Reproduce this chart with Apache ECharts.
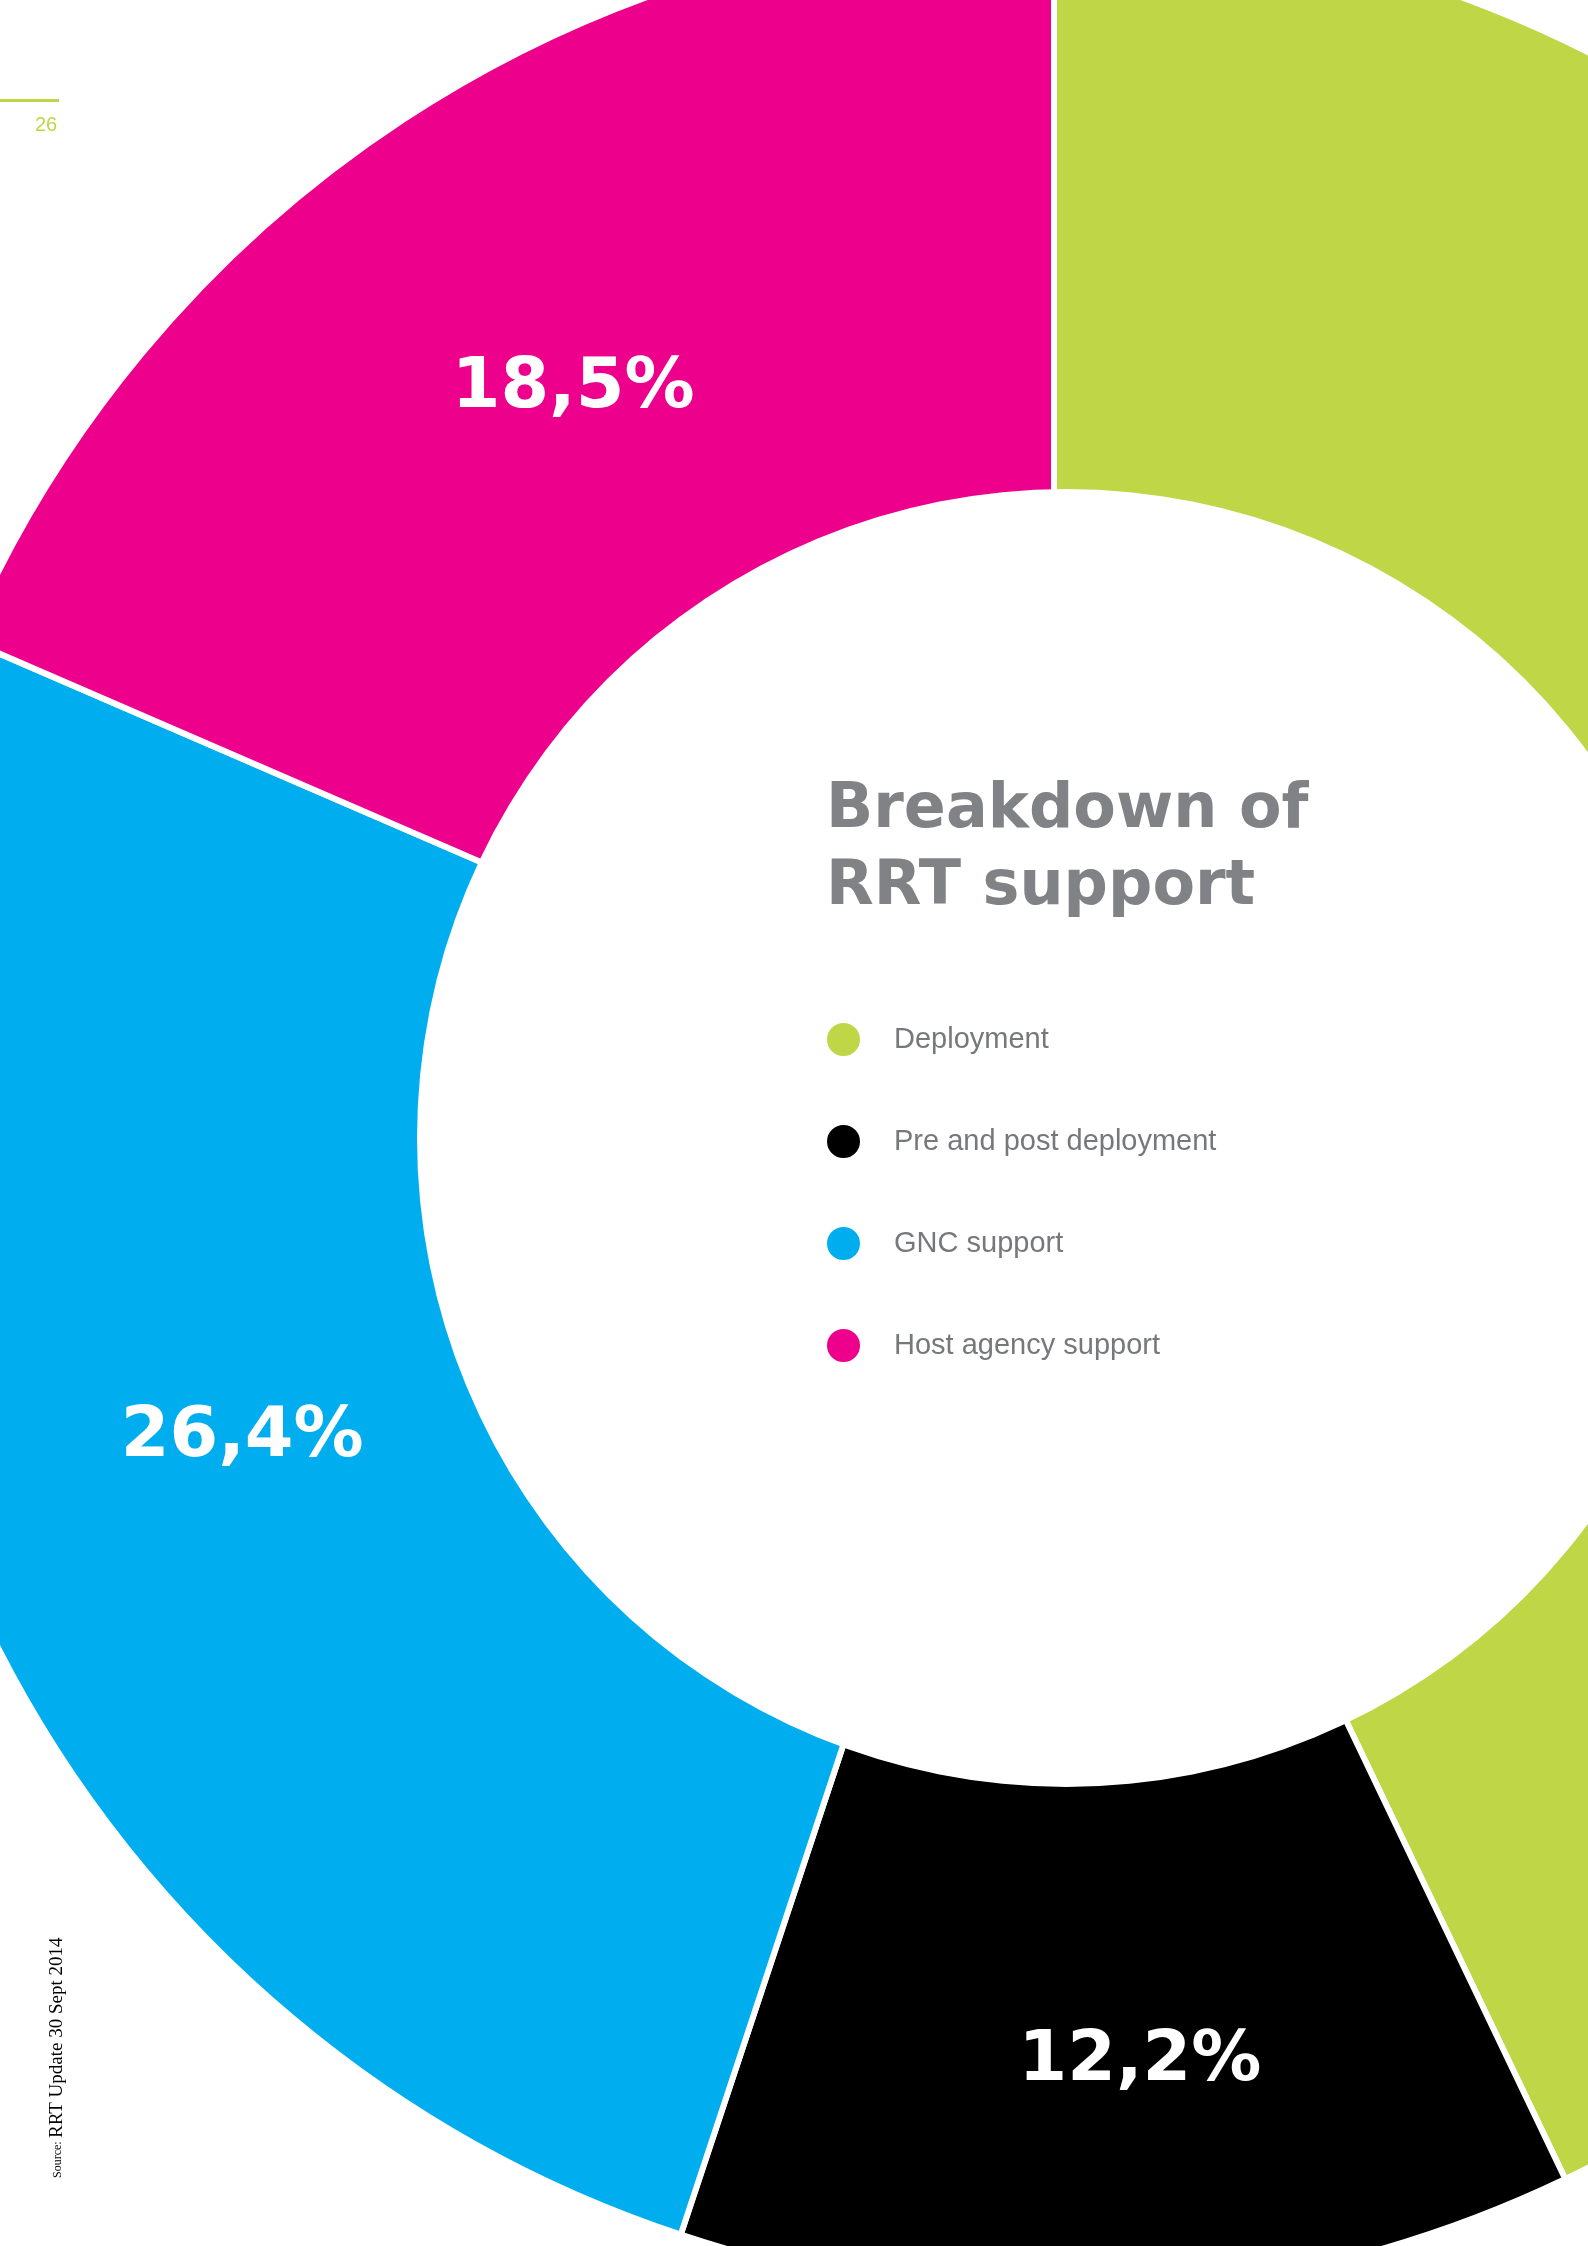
<!DOCTYPE html>
<html lang="en">
<head>
    <meta charset="UTF-8" />
    <title>Breakdown of RRT support</title>
    <script src="https://cdn.jsdelivr.net/npm/echarts@6.0.0/dist/echarts.min.js"></script>
    <style>
        html, body { margin: 0; padding: 0; background: #fff; }
        #main { width: 1588px; height: 2246px; }
    </style>
</head>
<body>
    <div id="main"></div>
    <script>
        // data
        var categories = ["Deployment", "Pre and post deployment", "GNC support", "Host agency support"];
        var shares = [42.9, 12.2, 26.4, 18.5];
        var colors = ["#bfd646", "#000000", "#00aeef", "#ec008c"];
        // the big labels were placed by hand in the original, nudge them
        var labelShift = [[0, 0], [30, 63], [1, -36], [8, 23]];

        var mCharts = echarts.init(document.getElementById("main"));

        var pieData = categories.map(function (name, i) {
            return { name: name, value: shares[i], itemStyle: { color: colors[i] } };
        });

        var option = {
            animation: false,
            legend: {
                orient: "vertical",
                left: 820,
                top: 1016,
                icon: "circle",
                itemWidth: 35,
                itemHeight: 35,
                itemGap: 65,
                selectedMode: false,
                data: categories,
                z: 20,
                textStyle: {
                    fontFamily: "Liberation Sans",
                    fontSize: 29,
                    color: "#77787b",
                    padding: [0, 0, 0, 28]
                }
            },
            graphic: {
                elements: [
                    // page number + rule
                    { type: "rect", left: 0, top: 99, z: 100, shape: { width: 59, height: 3 }, style: { fill: "#bfd646" } },
                    { type: "text", left: 35, top: 115, z: 100, style: { text: "26", font: "20px Liberation Sans", fill: "#bfd646" } },
                    // title
                    {
                        type: "text", left: 826, top: 772, z: 100,
                        style: {
                            text: "Breakdown of\nRRT support",
                            font: "bold 62px DejaVu Sans",
                            lineHeight: 77,
                            fill: "#808285"
                        }
                    },
                    // source, rotated
                    {
                        type: "text", x: 67, y: 2178, rotation: Math.PI / 2, z: 100,
                        style: {
                            text: "{s|Source:} {b|RRT Update 30 Sept 2014}",
                            rich: {
                                s: { fontFamily: "Liberation Serif", fontSize: 12, fill: "#000" },
                                b: { fontFamily: "Liberation Serif", fontSize: 19, fill: "#000" }
                            },
                            verticalAlign: "bottom"
                        }
                    }
                ]
            },
            series: [
                {
                    // outer ring: its outer circle sits a bit higher than the hole
                    type: "pie",
                    center: [1054, 1110],
                    radius: [590, 1185],
                    startAngle: 90,
                    clockwise: true,
                    avoidLabelOverlap: false,
                    silent: true,
                    itemStyle: { borderColor: "#fff", borderWidth: 6 },
                    label: {
                        show: true,
                        position: "inside",
                        fontFamily: "DejaVu Sans",
                        fontWeight: "bold",
                        fontSize: 70,
                        color: "#fff",
                        formatter: function (p) {
                            return p.value.toFixed(1).replace(".", ",") + "%";
                        }
                    },
                    labelLayout: function (p) {
                        var s = labelShift[p.dataIndex];
                        return { dx: s[0], dy: s[1] };
                    },
                    data: pieData
                },
                {
                    // white hole
                    type: "pie",
                    center: [1066, 1138],
                    radius: [0, 649],
                    silent: true,
                    z: 2,
                    label: { show: false },
                    labelLine: { show: false },
                    itemStyle: { color: "#fff" },
                    data: [{ name: "hole", value: 1 }]
                }
            ]
        };

        mCharts.setOption(option);
    </script>
</body>
</html>
